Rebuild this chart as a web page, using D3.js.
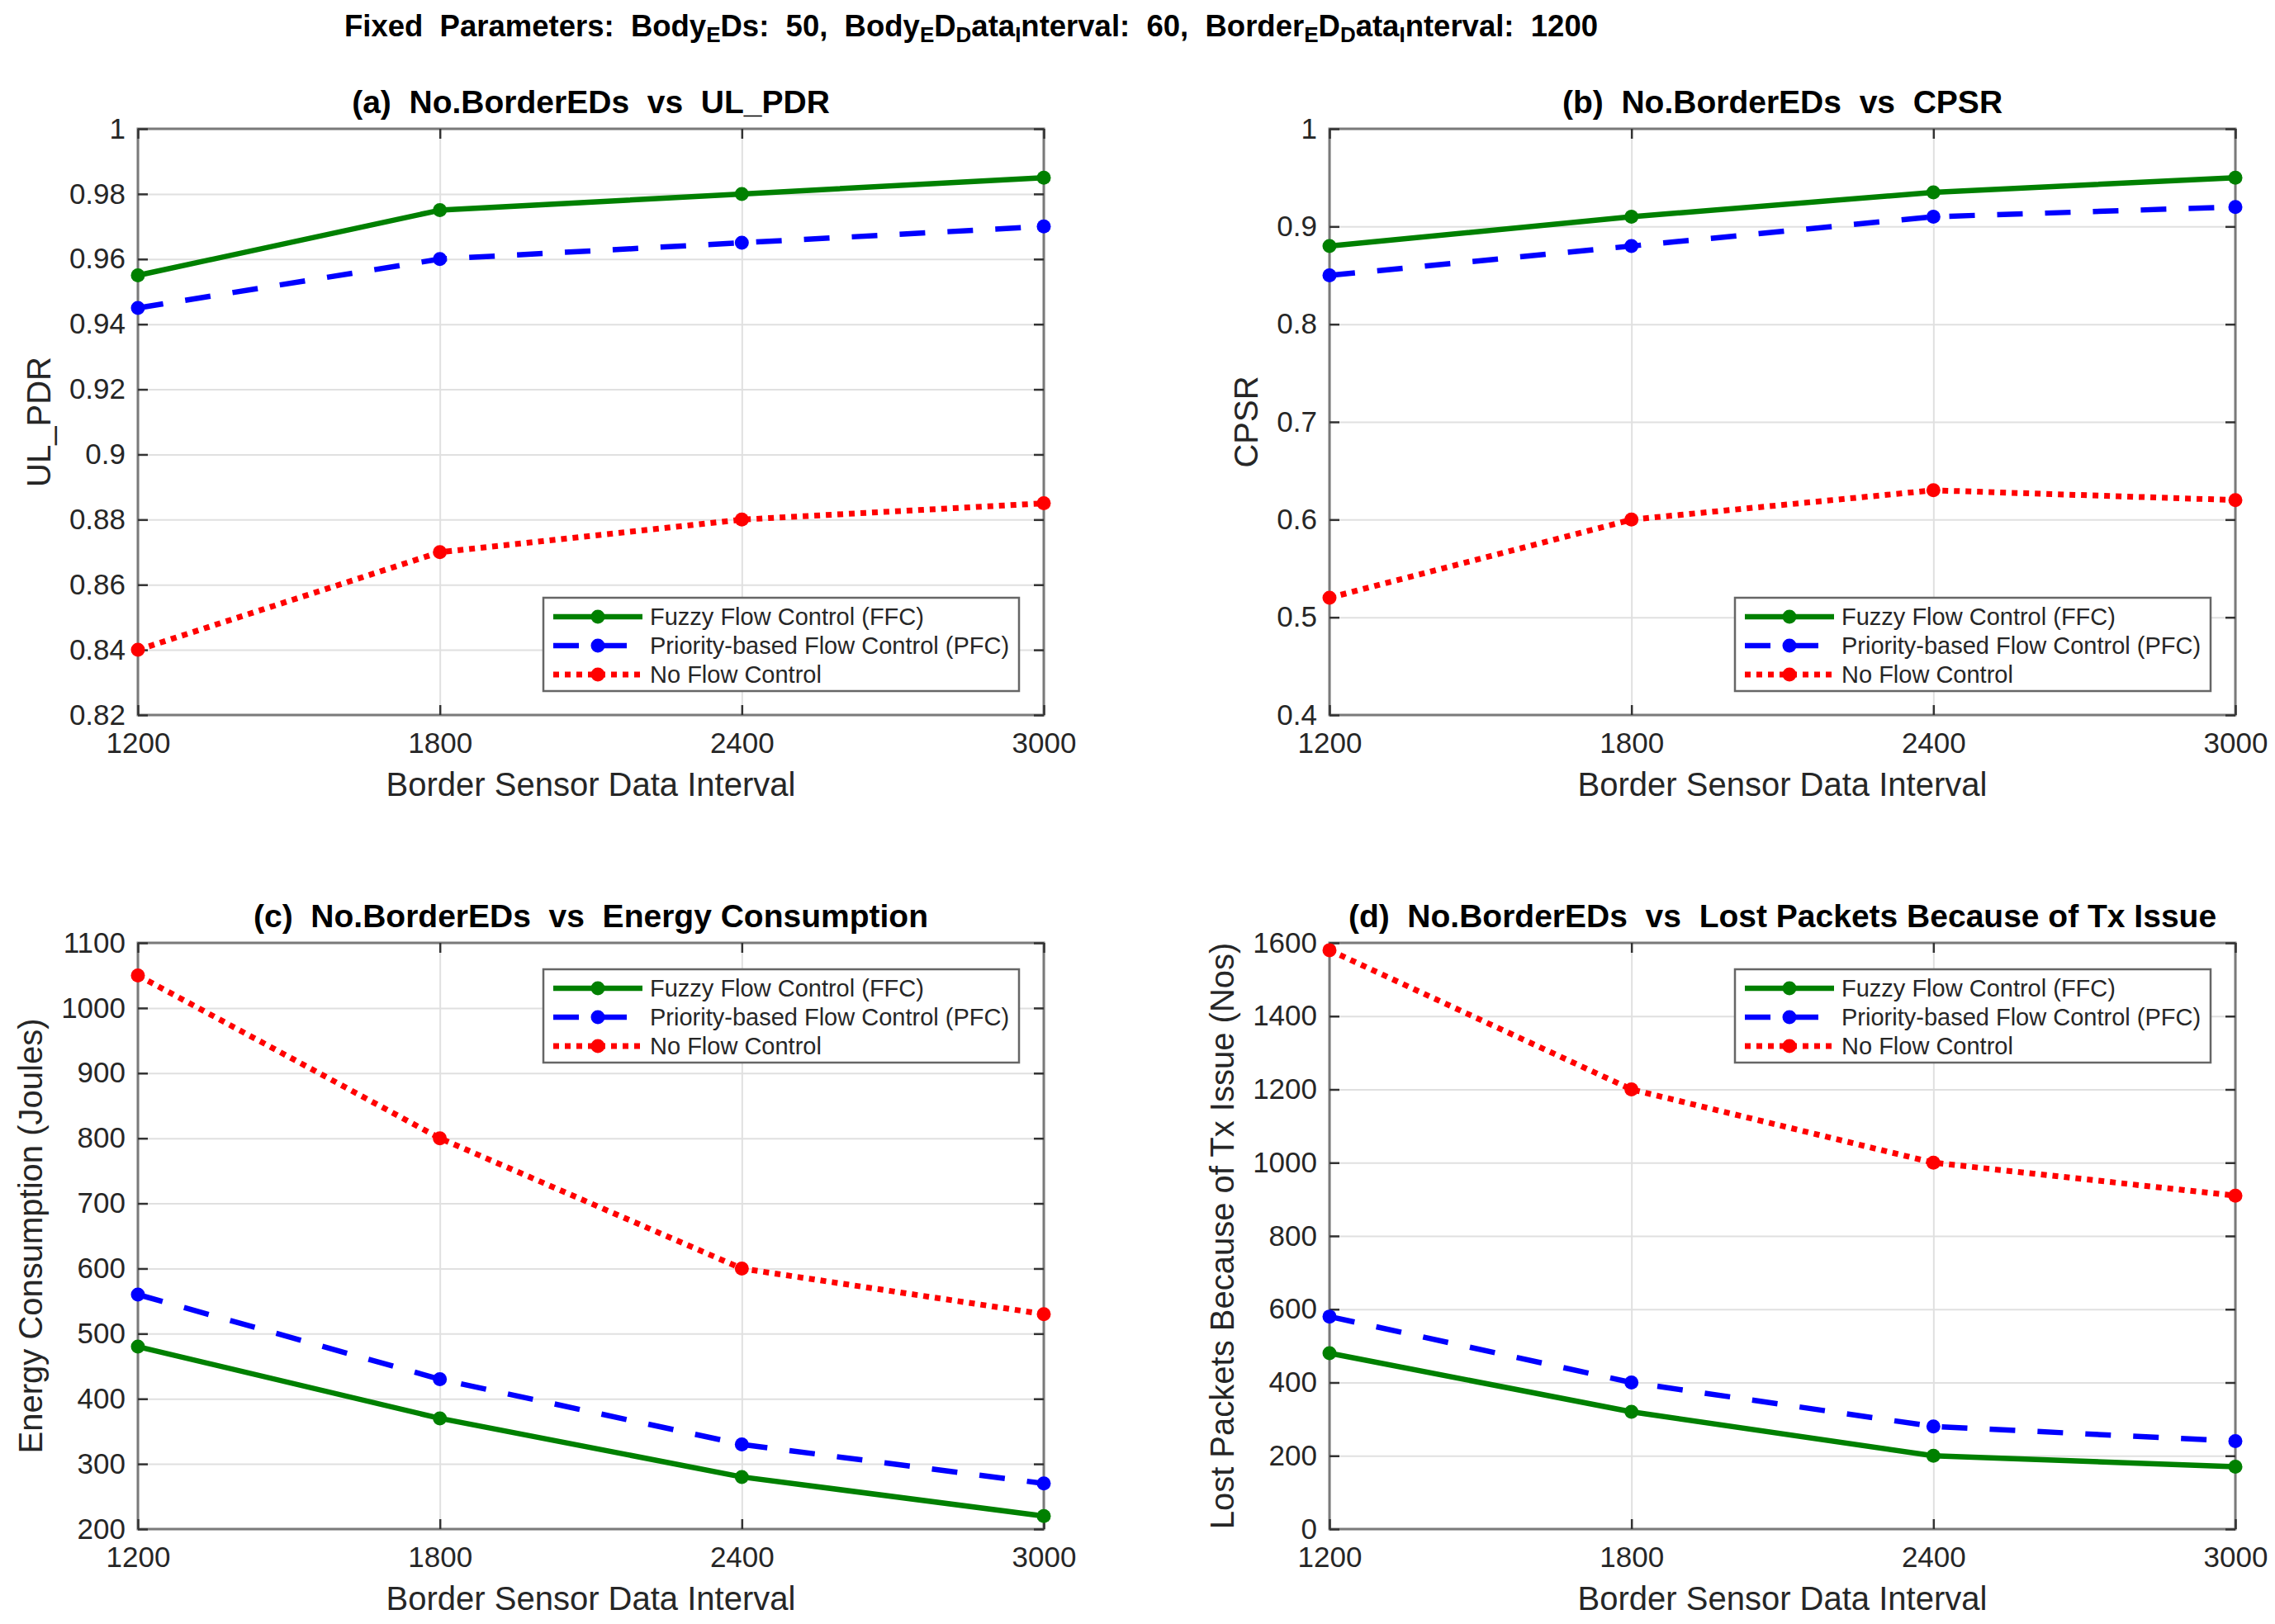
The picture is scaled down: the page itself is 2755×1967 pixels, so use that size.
<!DOCTYPE html>
<html>
<head>
<meta charset="utf-8">
<script src="https://cdn.jsdelivr.net/npm/d3@7"></script>
<style>
  body { margin: 0; background: #fff; }
  svg { display: block; font-family: "Liberation Sans", Arial, sans-serif; }
  .tick text { fill: #262626; font-size: 35px; }
</style>
</head>
<body>
<svg id="chart" width="2755" height="1967"></svg>
<script>
// x categories (border sensor data interval)
const intervals = [1200, 1800, 2400, 3000];
const seriesNames = ['Fuzzy Flow Control (FFC)', 'Priority-based Flow Control (PFC)', 'No Flow Control'];

// (a) UL_PDR
const pdrFFC = [0.955, 0.975, 0.980, 0.985];
const pdrPFC = [0.945, 0.960, 0.965, 0.970];
const pdrNFC = [0.840, 0.870, 0.880, 0.885];
const pdrTicks = [0.82, 0.84, 0.86, 0.88, 0.9, 0.92, 0.94, 0.96, 0.98, 1];

// (b) CPSR
const cpsrFFC = [0.88, 0.91, 0.935, 0.95];
const cpsrPFC = [0.85, 0.88, 0.91, 0.92];
const cpsrNFC = [0.52, 0.60, 0.63, 0.62];
const cpsrTicks = [0.4, 0.5, 0.6, 0.7, 0.8, 0.9, 1];

// (c) energy consumption
const energyFFC = [480, 370, 280, 220];
const energyPFC = [560, 430, 330, 270];
const energyNFC = [1050, 800, 600, 530];
const energyTicks = [200, 300, 400, 500, 600, 700, 800, 900, 1000, 1100];

// (d) lost packets because of Tx issue
const lostFFC = [480, 320, 200, 170];
const lostPFC = [580, 400, 280, 240];
const lostNFC = [1580, 1200, 1000, 910];
const lostTicks = [0, 200, 400, 600, 800, 1000, 1200, 1400, 1600];

// styles for the three series
const styles = [
  { color: '#008000', width: 6.5, dash: null },
  { color: '#0000ff', width: 6.5, dash: '31,27' },
  { color: '#ff0000', width: 7, dash: '7,7' }
];

const W = 1097, H = 710;
const panels = [
  { left: 167, top: 156, title: '(a)  No.BorderEDs  vs  UL_PDR', ylabel: 'UL_PDR',
    data: [pdrFFC, pdrPFC, pdrNFC], ticks: pdrTicks, legendTop: false },
  { left: 1610, top: 156, title: '(b)  No.BorderEDs  vs  CPSR', ylabel: 'CPSR',
    data: [cpsrFFC, cpsrPFC, cpsrNFC], ticks: cpsrTicks, legendTop: false },
  { left: 167, top: 1142, title: '(c)  No.BorderEDs  vs  Energy Consumption', ylabel: 'Energy Consumption (Joules)',
    data: [energyFFC, energyPFC, energyNFC], ticks: energyTicks, legendTop: true },
  { left: 1610, top: 1142, title: '(d)  No.BorderEDs  vs  Lost Packets Because of Tx Issue', ylabel: 'Lost Packets Because of Tx Issue (Nos)',
    data: [lostFFC, lostPFC, lostNFC], ticks: lostTicks, legendTop: true }
];

const svg = d3.select('#chart');

// Titre général avec indices (style TeX)
const main = svg.append('text')
  .attr('x', 1176).attr('y', 44)
  .attr('text-anchor', 'middle')
  .style('font-size', '36.5px').style('font-weight', 'bold').style('fill', '#000')
  .style('white-space', 'pre');
const parts = [
  ['Fixed  Parameters:  Body', 0], ['E', 1], ['Ds:  50,  Body', 0], ['E', 1], ['D', 0], ['D', 1], ['ata', 0], ['I', 1],
  ['nterval:  60,  Border', 0], ['E', 1], ['D', 0], ['D', 1], ['ata', 0], ['I', 1], ['nterval:  1200', 0]
];
let down = false;
parts.forEach(([t, sub]) => {
  const ts = main.append('tspan').text(t);
  if (sub) { ts.style('font-size', '26px').attr('dy', down ? 0 : 7); down = true; }
  else { ts.attr('dy', down ? -7 : 0); down = false; }
});

panels.forEach(p => {
  const g = svg.append('g').attr('transform', `translate(${p.left},${p.top})`);
  const x = d3.scaleLinear().domain([intervals[0], intervals[intervals.length - 1]]).range([0, W]);
  const y = d3.scaleLinear().domain([p.ticks[0], p.ticks[p.ticks.length - 1]]).range([H, 0]);

  // grille
  g.append('g').call(d3.axisLeft(y).tickValues(p.ticks).tickSize(-W).tickFormat(''))
    .call(a => a.select('.domain').remove())
    .selectAll('line').attr('stroke', '#e0e0e0').attr('stroke-width', 2);
  g.append('g').call(d3.axisBottom(x).tickValues(intervals).tickSize(H).tickFormat(''))
    .call(a => a.select('.domain').remove())
    .selectAll('line').attr('stroke', '#e0e0e0').attr('stroke-width', 2);

  // cadre
  g.append('rect').attr('width', W).attr('height', H)
    .attr('fill', 'none').attr('stroke', '#7a7a7a').attr('stroke-width', 3);

  // axes (graduations vers l'intérieur)
  const yAxis = g.append('g')
    .call(d3.axisLeft(y).tickValues(p.ticks).tickSizeInner(-12).tickSizeOuter(0).tickPadding(15).tickFormat(d3.format('')));
  g.append('g').attr('transform', `translate(${W},0)`)
    .call(d3.axisRight(y).tickValues(p.ticks).tickSizeInner(-12).tickSizeOuter(0).tickFormat(''));
  g.append('g').attr('transform', `translate(0,${H})`)
    .call(d3.axisBottom(x).tickValues(intervals).tickSizeInner(-12).tickSizeOuter(0).tickPadding(21).tickFormat(d3.format('')));
  g.append('g')
    .call(d3.axisTop(x).tickValues(intervals).tickSizeInner(-12).tickSizeOuter(0).tickFormat(''));
  g.selectAll('.domain').remove();
  g.selectAll('.tick line').filter(function () { return this.getAttribute('stroke') === 'currentColor'; })
    .attr('stroke', '#333').attr('stroke-width', 2.5);
  g.selectAll('.tick text').style('font-family', '"Liberation Sans", Arial, sans-serif').style('font-size', '35px');

  // titres des axes
  g.append('text').attr('x', W / 2).attr('y', H + 98).attr('text-anchor', 'middle')
    .style('font-size', '40px').style('fill', '#262626').text('Border Sensor Data Interval');
  let maxW = 0;
  yAxis.selectAll('text').each(function () { maxW = Math.max(maxW, this.getBBox().width); });
  const lx = -15 - maxW - 23;
  g.append('text').attr('transform', `translate(${lx},${H / 2}) rotate(-90)`).attr('text-anchor', 'middle')
    .style('font-size', '40px').style('fill', '#262626').text(p.ylabel);

  g.append('text').attr('x', W / 2).attr('y', -19).attr('text-anchor', 'middle')
    .style('font-size', '39px').style('font-weight', 'bold').style('fill', '#000')
    .style('white-space', 'pre').text(p.title);

  // séries
  const line = d3.line().x((d, i) => x(intervals[i])).y(d => y(d));
  p.data.forEach((vals, s) => {
    const st = styles[s];
    g.append('path').datum(vals).attr('d', line)
      .attr('fill', 'none').attr('stroke', st.color).attr('stroke-width', st.width)
      .attr('stroke-dasharray', st.dash).attr('stroke-linejoin', 'round');
    g.selectAll(null).data(vals).enter().append('circle')
      .attr('cx', (d, i) => x(intervals[i])).attr('cy', d => y(d)).attr('r', 8.5)
      .attr('fill', st.color);
  });

  // légende
  const LW = 576, LH = 113;
  const lg = g.append('g').attr('transform',
    `translate(${W - 30 - LW},${p.legendTop ? 32 : H - 29 - LH})`);
  lg.append('rect').attr('width', LW).attr('height', LH)
    .attr('fill', '#fff').attr('stroke', '#666').attr('stroke-width', 2.5);
  seriesNames.forEach((name, s) => {
    const st = styles[s];
    const ry = 23 + s * 35;
    lg.append('line').attr('x1', 12).attr('x2', 120).attr('y1', ry).attr('y2', ry)
      .attr('stroke', st.color).attr('stroke-width', st.width).attr('stroke-dasharray', st.dash);
    lg.append('circle').attr('cx', 66).attr('cy', ry).attr('r', 8.5).attr('fill', st.color);
    lg.append('text').attr('x', 129).attr('y', ry).attr('dy', '0.35em')
      .style('font-size', '29px').style('fill', '#262626').text(name);
  });
});
</script>
</body>
</html>
